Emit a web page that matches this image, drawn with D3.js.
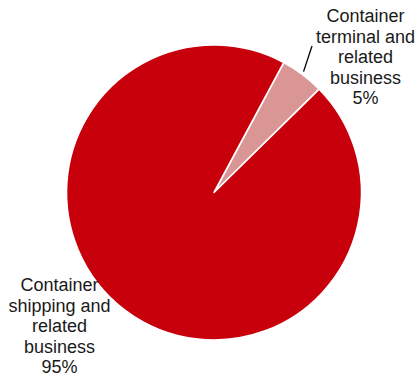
<!DOCTYPE html>
<html>
<head>
<meta charset="utf-8">
<script src="https://cdn.jsdelivr.net/npm/d3@7"></script>
<style>
  body { margin: 0; background: #fff; }
  text { font-family: "Liberation Sans", Arial, sans-serif; }
</style>
</head>
<body>
<div id="chart"></div>
<script>
const width = 418, height = 381;

// data
const segments = ["Container terminal and related business", "Container shipping and related business"];
const shares = [4.8, 95.2];
const labelLines = [
    ["Container", "terminal and", "related", "business", "5%"],
    ["Container", "shipping and", "related", "business", "95%"]
];
const colors = ["#D99694", "#C8000B"];

const cx = 214, cy = 192.5, radius = 147.5;

const svg = d3.select("#chart")
    .append("svg")
    .attr("width", width)
    .attr("height", height);

const g = svg.append("g")
    .attr("transform", "translate(" + cx + "," + cy + ")");

const startDeg = 28.2;
const pie = d3.pie()
    .sort(null)
    .value(d => d.value)
    .startAngle(startDeg * Math.PI / 180)
    .endAngle((startDeg + 360) * Math.PI / 180);

const arc = d3.arc().innerRadius(0).outerRadius(radius);

const dataset = segments.map((s, i) => ({ name: s, value: shares[i], lines: labelLines[i], color: colors[i] }));
const arcs = pie(dataset);

g.selectAll("path")
    .data(arcs)
    .enter()
    .append("path")
    .attr("d", arc)
    .attr("fill", d => d.data.color)
    .attr("stroke", "#fff")
    .attr("stroke-width", 1.6)
    .attr("stroke-linejoin", "round");

// label anchors (page coords, centre of the text block's first baseline)
const labelPos = [[365.5, 22], [59.6, 291]];
const lineH = 20.5;

arcs.forEach(function(d, i) {
    const t = svg.append("text")
        .attr("text-anchor", "middle")
        .attr("font-size", "18px")
        .attr("fill", "#1a1a1a");
    d.data.lines.forEach(function(line, j) {
        t.append("tspan")
            .attr("x", labelPos[i][0])
            .attr("y", labelPos[i][1] + j * lineH)
            .text(line);
    });
});

// leader line for the small slice
const small = arcs[0];
const mid = (small.startAngle + small.endAngle) / 2;
const r0 = radius + 1;
svg.append("line")
    .attr("x1", cx + r0 * Math.sin(mid) + 0.5)
    .attr("y1", cy - r0 * Math.cos(mid) - 2)
    .attr("x2", labelPos[0][0] - 53.5)
    .attr("y2", labelPos[0][1] + 24)
    .attr("stroke", "#000")
    .attr("stroke-width", 1.3);
</script>
</body>
</html>
